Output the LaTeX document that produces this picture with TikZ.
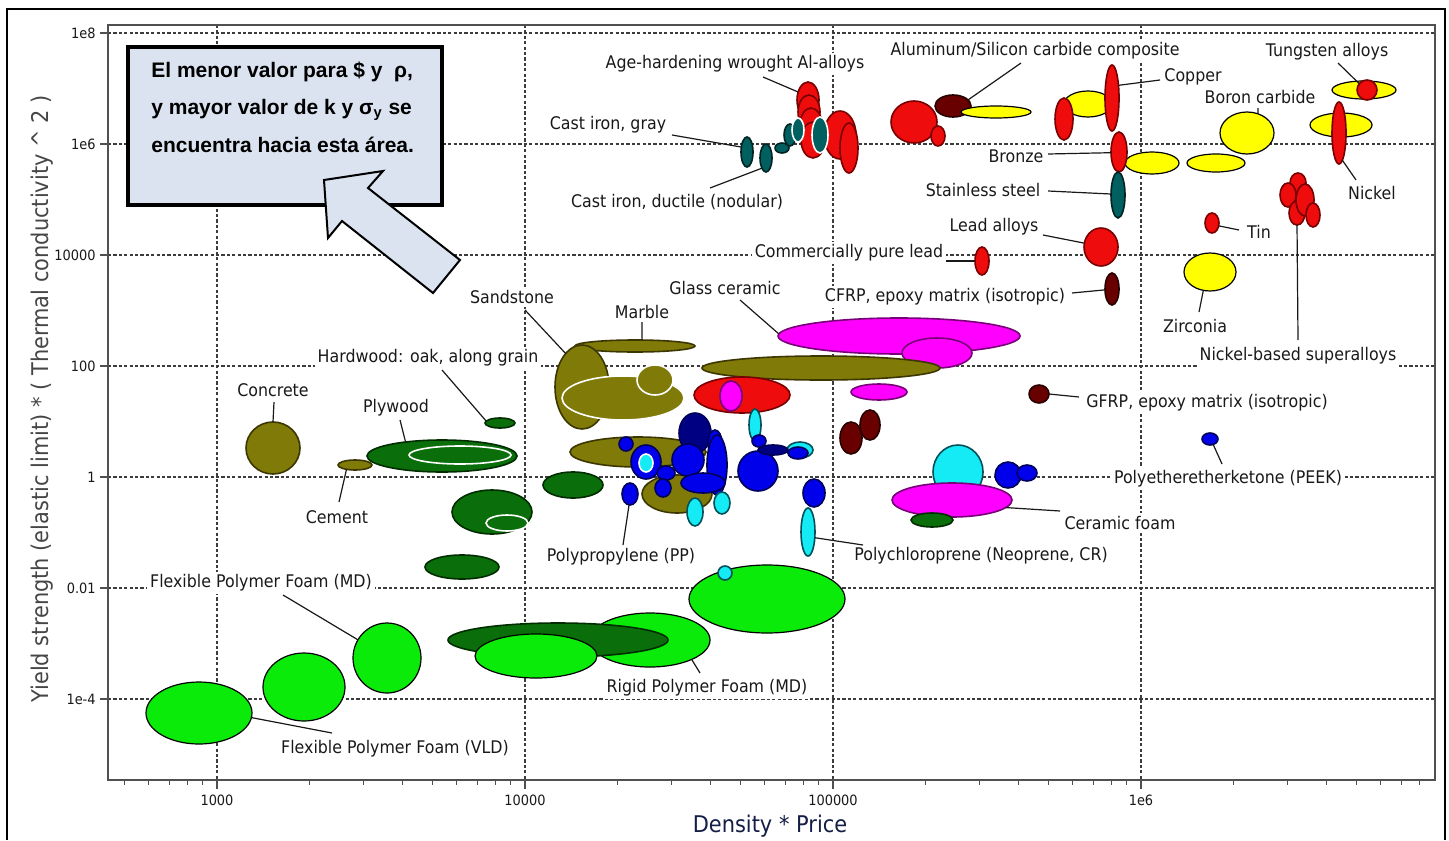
\documentclass[tikz,border=0pt]{standalone}
\usepackage{fontspec}
\usetikzlibrary{shapes.geometric}
\newfontfamily\lblfont[FakeStretch=0.91]{DejaVu Sans}
\newfontfamily\boxfont{Liberation Sans}

\definecolor{cRed}{RGB}{238,12,12}
\definecolor{cRedD}{RGB}{120,0,0}
\definecolor{cOlive}{RGB}{128,122,8}
\definecolor{cOliveD}{RGB}{60,55,0}
\definecolor{cDG}{RGB}{10,110,10}
\definecolor{cDGD}{RGB}{0,45,0}
\definecolor{cLG}{RGB}{10,235,10}
\definecolor{cYel}{RGB}{255,255,0}
\definecolor{cMag}{RGB}{255,0,255}
\definecolor{cMagD}{RGB}{120,0,120}
\definecolor{cCyan}{RGB}{20,235,245}
\definecolor{cCyanD}{RGB}{0,80,90}
\definecolor{cBlue}{RGB}{0,0,235}
\definecolor{cBlueD}{RGB}{0,0,90}
\definecolor{cNavy}{RGB}{0,0,130}
\definecolor{cTeal}{RGB}{0,95,95}
\definecolor{cTealD}{RGB}{0,35,35}
\definecolor{cMar}{RGB}{105,0,0}
\definecolor{cMarD}{RGB}{40,0,0}
\definecolor{cBox}{RGB}{219,227,240}
\definecolor{cGrid}{RGB}{60,60,60}
\definecolor{cAxis}{RGB}{80,80,80}
\definecolor{cTxt}{RGB}{25,25,25}
\definecolor{cXlab}{RGB}{20,30,70}
\definecolor{cYlab}{RGB}{70,70,70}

% material bubble: style, name, centre, x radius, y radius (pixel units)
\newcommand\bub[5]{\node[#1,minimum width=#4pt,minimum height=#5pt] (#2) at (#3) {};}

\tikzset{
  bb/.style={ellipse, inner sep=0pt, outer sep=0pt, line width=0.8pt},
  sRed/.style={bb, fill=cRed, draw=cRedD},
  sOlive/.style={bb, fill=cOlive, draw=cOliveD},
  sDG/.style={bb, fill=cDG, draw=cDGD},
  sLG/.style={bb, fill=cLG, draw=black, line width=0.6pt},
  sYel/.style={bb, fill=cYel, draw=black, line width=0.6pt},
  sMag/.style={bb, fill=cMag, draw=cMagD},
  sCyan/.style={bb, fill=cCyan, draw=cCyanD},
  sBlue/.style={bb, fill=cBlue, draw=cBlueD},
  sNavy/.style={bb, fill=cNavy, draw=cBlueD},
  sTeal/.style={bb, fill=cTeal, draw=cTealD},
  sMar/.style={bb, fill=cMar, draw=cMarD},
  wo/.style={draw=white},
  lbl/.style={font=\lblfont\fontsize{8.7}{10}\selectfont, text=cTxt, fill=white, inner sep=1.5pt},
  lead/.style={draw=cTxt, line width=0.6pt},
  gridline/.style={draw=cGrid, line width=0.6pt, dash pattern=on 1.6pt off 1.1pt},
  ticklbl/.style={font=\lblfont\fontsize{7.1}{8}\selectfont, text=cTxt, inner sep=1pt},
  boxtxt/.style={font=\boxfont\bfseries\fontsize{10.5}{12}\selectfont, text=black, inner sep=0pt},
}

\begin{document}
\begin{tikzpicture}[x=0.5pt,y=-0.5pt]
\useasboundingbox (0,0) rectangle (1449,840);
\fill[white] (0,0) rectangle (1449,840);

% outer frame
\draw[line width=1.3pt] (7,840) -- (7,9) -- (1445,9) -- (1445,840);

% grid
\foreach \yy in {33,144,255,366,477,588,699}
  \draw[gridline] (108,\yy) -- (1435,\yy);
\foreach \xx in {217,525,833,1141}
  \draw[gridline] (\xx,25) -- (\xx,780);

% plot frame and ticks
\draw[cAxis, line width=0.6pt] (108,25) rectangle (1435,780);
\foreach \yy in {33,144,255,366,477,588,699}
  \draw[cAxis, line width=0.6pt] (100,\yy) -- (108,\yy);
\foreach \xx in {217,525,833,1141}
  \draw[cAxis, line width=0.6pt] (\xx,780) -- (\xx,789);
\foreach \l in {0.301,0.477,0.602,0.699,0.778,0.845,0.903,0.954}{
  \foreach \d in {-1,0,1,2,3}{
    \pgfmathsetmacro\xm{217+308*(\d+\l)}
    \ifdim\xm pt>108pt
      \ifdim\xm pt<1434pt
        \draw[cAxis, line width=0.5pt] (\xm,780) -- (\xm,785);
      \fi
    \fi
  }
}

% tick labels
\node[ticklbl, anchor=east] (ty8) at (98,33) {1e8};
\node[ticklbl, anchor=east] (ty6) at (98,144) {1e6};
\node[ticklbl, anchor=east] (ty4) at (98,255) {10000};
\node[ticklbl, anchor=east] (ty2) at (98,366) {100};
\node[ticklbl, anchor=east] (ty0) at (98,477) {1};
\node[ticklbl, anchor=east] (tym2) at (98,588) {0.01};
\node[ticklbl, anchor=east] (tym4) at (98,699) {1e-4};
\node[ticklbl] (tx3) at (217,800) {1000};
\node[ticklbl] (tx4) at (525,800) {10000};
\node[ticklbl] (tx5) at (833,800) {100000};
\node[ticklbl] (tx6) at (1141,800) {1e6};

% axis titles
\node[font=\lblfont\fontsize{11.5}{13}\selectfont, text=cXlab, anchor=base] (xlab) at (770,832) {Density * Price};
\node[font=\lblfont\fontsize{11.5}{13}\selectfont, text=cYlab, rotate=90] (ylab) at (42,399)
  {Yield strength (elastic limit) * ( Thermal conductivity \textasciicircum{} 2 )};

% woods, concrete, cement
\bub{sOlive}{concrete}{273,448}{27}{26}
\bub{sOlive}{cement}{355,465}{17}{5}
\bub{sDG}{plywood}{442,456}{75}{16}
\bub{sDG,wo}{plywoodIn}{460,455}{51}{9}
\bub{sDG}{hardwood}{500,423}{15}{5}
\bub{sDG}{woodA}{492,512}{40}{22}
\bub{sDG,wo}{woodAin}{507,523}{21}{8}
\bub{sDG}{woodB}{573,485}{30}{13}
\bub{sDG}{woodC}{462,567}{37}{12}

% foams
\bub{sLG}{rigid}{650,640}{60}{27}
\bub{sDG}{woodD}{558,640}{110}{17}
\bub{sLG}{foamA}{536,656}{61}{22}
\bub{sLG}{foamB}{767,599}{78}{34}
\bub{sCyan}{cyanA}{725,573}{7}{7}
\bub{sLG}{flexMD}{387,658}{34}{35}
\bub{sLG}{flexB}{304,687}{41}{34}
\bub{sLG}{flexVLD}{199,713}{53}{31}

% stones
\bub{sOlive}{marble}{635,346}{60}{6}
\bub{sOlive}{sandstone}{582,387}{27}{42}
\bub{sOlive,wo}{stoneA}{623,398}{61}{22}
\bub{sOlive,wo}{stoneB}{655,380}{18}{15}

% glass ceramic and neighbours
\bub{sMag}{glassCer}{899,336}{121}{18}
\bub{sMag}{magB}{937,353}{35}{15}
\bub{sOlive}{oliveLong}{821,368}{119}{12}
\bub{sRed}{redMid}{742,395}{48}{18}
\bub{sMag}{magIn}{731,396}{11}{15}
\bub{sMag}{magC}{879,392}{28}{8}
\bub{sMar}{marA}{851,438}{11}{16}
\bub{sMar}{marB}{870,425}{10}{15}
\bub{sMar}{gfrp}{1039,394}{10}{9}
\bub{sBlue}{peek}{1210,439}{8}{6}

% ceramic foam group
\bub{sCyan}{cyanDome}{958,472}{25}{27}
\bub{sMag}{cerFoam}{952,500}{60}{17}
\bub{sBlue}{blueE}{1008,475}{13}{13}
\bub{sBlue}{blueF}{1027,473}{10}{8}
\bub{sDG}{woodE}{932,520}{21}{7}

% polymer cluster
\bub{sOlive}{oliveC}{638,452}{68}{15}
\bub{sOlive}{oliveD}{677,494}{35}{19}
\bub{sNavy}{navyA}{695,433}{16}{20}
\bub{sBlue}{blueRing}{646,462}{15}{17}
\bub{sCyan,wo}{cyanRing}{646,463}{7}{9}
\bub{sBlue}{blueS1}{626,444}{7}{7}
\bub{sBlue}{blueBig}{688,460}{16}{16}
\bub{sBlue}{blueS2}{666,473}{9}{7}
\bub{sBlue}{blueS3}{663,488}{8}{9}
\bub{sBlue}{blueV1}{715,443}{7}{13}
\bub{sBlue}{blueV2}{717,465}{10}{30}
\bub{sBlue}{blueH}{703,483}{22}{10}
\bub{sCyan}{cyanB}{695,512}{8}{14}
\bub{sCyan}{cyanC}{722,503}{8}{11}
\bub{sCyan}{cyanV}{755,425}{6}{16}
\bub{sBlue}{blueS4}{759,441}{7}{6}
\bub{sBlue}{blueBig2}{758,471}{20}{20}
\bub{sCyan}{cyanD}{800,450}{13}{8}
\bub{sNavy}{navyH}{773,450}{15}{5}
\bub{sBlue}{blueS5}{798,453}{10}{6}
\bub{sBlue}{pp}{630,494}{8}{11}
\bub{sBlue}{blueG}{814,493}{11}{14}
\bub{sCyan}{neoprene}{808,532}{7}{24}

% aluminium alloys and cast irons
\bub{sRed}{alA1}{808,100}{11}{18}
\bub{sRed}{alA2}{809,112}{11}{17}
\bub{sRed}{alA3}{811,125}{11}{17}
\bub{sRed}{alA4}{813,140}{12}{18}
\bub{sRed}{alB1}{840,135}{16}{24}
\bub{sRed}{alB2}{849,148}{9}{25}
\bub{sTeal}{ciGray}{747,152}{6}{15}
\bub{sTeal}{ciDuct}{766,158}{6}{14}
\bub{sTeal}{teal3}{782,148}{7}{5}
\bub{sTeal}{teal4}{790,135}{6}{11}
\bub{sTeal,wo}{teal5}{798,130}{6}{12}
\bub{sTeal,wo}{teal6}{820,135}{8}{18}

% Al/SiC composite group
\bub{sMar}{marAl}{953,106}{18}{11}
\bub{sRed}{redAl}{914,122}{23}{21}
\bub{sRed}{redAl2}{938,136}{7}{10}
\bub{sYel}{yelAl}{996,112}{35}{6}

% copper, bronze, steels
\bub{sYel}{yelCu}{1088,104}{24}{13}
\bub{sRed}{redCu2}{1064,119}{9}{21}
\bub{sRed}{copper}{1112,98}{7}{33}
\bub{sYel}{yelBr1}{1152,163}{27}{11}
\bub{sYel}{yelBr2}{1216,163}{29}{9}
\bub{sRed}{bronze}{1119,152}{8}{20}
\bub{sTeal}{stainless}{1118,195}{7}{23}
\bub{sYel}{boron}{1247,133}{27}{21}
\bub{sYel}{yelNi}{1341,125}{31}{12}
\bub{sRed}{nickel}{1339,133}{7}{31}
\bub{sYel}{yelW}{1364,90}{32}{9}
\bub{sRed}{tungsten}{1367,90}{10}{10}
\bub{sRed}{nsa1}{1298,183}{8}{10}
\bub{sRed}{nsa2}{1288,195}{8}{12}
\bub{sRed}{nsa3}{1297,213}{8}{12}
\bub{sRed}{nsa4}{1305,200}{9}{16}
\bub{sRed}{nsa5}{1313,215}{7}{12}
\bub{sRed}{tin}{1212,223}{7}{10}
\bub{sYel}{zirconia}{1210,272}{26}{19}
\bub{sRed}{leadAl}{1101,247}{17}{19}
\bub{sRed}{pureLead}{982,261}{7}{14}
\bub{sMar}{cfrp}{1112,289}{7}{16}

% labels
\node[lbl] (Lage) at (735,64) {Age-hardening wrought Al-alloys};
\node[lbl] (Lalsic) at (1035,51) {Aluminum/Silicon carbide composite};
\node[lbl] (Ltung) at (1327,52) {Tungsten alloys};
\node[lbl] (Lcopper) at (1193,77) {Copper};
\node[lbl] (Lboron) at (1260,97) {Boron carbide};
\node[lbl] (Lcigray) at (608,125) {Cast iron, gray};
\node[lbl] (Lnickel) at (1372,193) {Nickel};
\node[lbl] (Lbronze) at (1016,156) {Bronze};
\node[lbl] (Lstain) at (983,190) {Stainless steel};
\node[lbl] (Lciduct) at (677,202) {Cast iron, ductile (nodular)};
\node[lbl] (Llead) at (994,227) {Lead alloys};
\node[lbl] (Ltin) at (1259,232) {Tin};
\node[lbl] (Lpure) at (849,253) {Commercially pure lead};
\node[lbl] (Lcfrp) at (945,297) {CFRP, epoxy matrix (isotropic)};
\node[lbl] (Lsand) at (512,297) {Sandstone};
\node[lbl] (Lglass) at (725,288) {Glass ceramic};
\node[lbl] (Lmarble) at (642,312) {Marble};
\node[lbl] (Lzirc) at (1195,326) {Zirconia};
\node[lbl] (Lnsa) at (1298,356) {Nickel-based superalloys};
\node[lbl] (Lhard) at (428,358) {Hardwood: oak, along grain};
\node[lbl] (Lconc) at (273,390) {Concrete};
\node[lbl] (Lgfrp) at (1207,403) {GFRP, epoxy matrix (isotropic)};
\node[lbl] (Lply) at (396,408) {Plywood};
\node[lbl] (Lpeek) at (1228,479) {Polyetheretherketone (PEEK)};
\node[lbl] (Lcement) at (337,517) {Cement};
\node[lbl] (Lcerf) at (1120,523) {Ceramic foam};
\node[lbl] (Lpp) at (621,557) {Polypropylene (PP)};
\node[lbl] (Lneo) at (981,556) {Polychloroprene (Neoprene, CR)};
\node[lbl] (Lflexmd) at (261,583) {Flexible Polymer Foam (MD)};
\node[lbl] (Lrigid) at (707,688) {Rigid Polymer Foam (MD)};
\node[lbl] (Lflexvld) at (395,749) {Flexible Polymer Foam (VLD)};

% leader lines
\draw[lead] ([shift={(28,13)}]Lage.center) -- (alA1.141);
\draw[lead] ([shift={(-14,12)}]Lalsic.center) -- (marAl.22);
\draw[lead] ([shift={(11,11)}]Ltung.center) -- (tungsten.141);
\draw[lead] ([shift={(-33,3)}]Lcopper.center) -- (copper.63);
\draw[lead] ([shift={(-2,11)}]Lboron.center) -- (boron.60);
\draw[lead] ([shift={(64,10)}]Lcigray.center) -- (ciGray.139);
\draw[lead] ([shift={(-16,-13)}]Lnickel.center) -- (nickel.277);
\draw[lead] ([shift={(32,-2)}]Lbronze.center) -- (bronze.185);
\draw[lead] ([shift={(65,1)}]Lstain.center) -- (stainless.172);
\draw[lead] ([shift={(33,-14)}]Lciduct.center) -- (ciDuct.248);
\draw[lead] ([shift={(49,8)}]Llead.center) -- (leadAl.167);
\draw[lead] ([shift={(-20,-2)}]Ltin.center) -- (tin.337);
\draw[lead] ([shift={(97,8)}]Lpure.center) -- (pureLead.180);
\draw[lead] ([shift={(127,-4)}]Lcfrp.center) -- (cfrp.187);
\draw[lead] ([shift={(13,13)}]Lsand.center) -- (sandstone.116);
\draw[lead] ([shift={(15,12)}]Lglass.center) -- (glassCer.179);
\draw[lead] ([shift={(0,10)}]Lmarble.center) -- (marble.40);
\draw[lead] ([shift={(4,-14)}]Lzirc.center) -- (zirconia.250);
\draw[lead] ([shift={(0,-16)}]Lnsa.center) -- (nsa3.south);
\draw[lead] ([shift={(14,12)}]Lhard.center) -- (hardwood.172);
\draw[lead] ([shift={(1,12)}]Lconc.center) -- (concrete.north);
\draw[lead] ([shift={(-128,-6)}]Lgfrp.center) -- (gfrp.0);
\draw[lead] ([shift={(4,12)}]Lply.center) -- (plywood.159);
\draw[lead] ([shift={(-6,-15)}]Lpeek.center) -- (peek.300);
\draw[lead] ([shift={(2,-15)}]Lcement.center) -- (cement.207);
\draw[lead] ([shift={(-60,-12)}]Lcerf.center) -- (cerFoam.352);
\draw[lead] ([shift={(2,-12)}]Lpp.center) -- (pp.265);
\draw[lead] ([shift={(-118,-11)}]Lneo.center) -- (neoprene.320);
\draw[lead] ([shift={(22,12)}]Lflexmd.center) -- (flexMD.148);
\draw[lead] ([shift={(-7,-15)}]Lrigid.center) -- (rigid.335);
\draw[lead] ([shift={(-63,-16)}]Lflexvld.center) -- (flexVLD.355);

% callout box with arrow
\node[draw=black, line width=1.8pt, fill=cBox, minimum width=157pt, minimum height=79pt, inner sep=0pt] (callout) at (285,126) {};
\node[boxtxt, anchor=base west] (c1) at (151,77) {El menor valor para \$ y\ \ ρ,};
\node[boxtxt, anchor=base west] (c2) at (151,114) {y mayor valor de k y σ\textsubscript{y} se};
\node[boxtxt, anchor=base west] (c3) at (151,152) {encuentra hacia esta área.};
\filldraw[fill=cBox, draw=black, line width=1pt, line join=miter]
  (324,180) -- (383,171) -- (368,188) -- (460,260) -- (433,293) -- (342,221) -- (328,238) -- cycle;
\end{tikzpicture}
\end{document}
